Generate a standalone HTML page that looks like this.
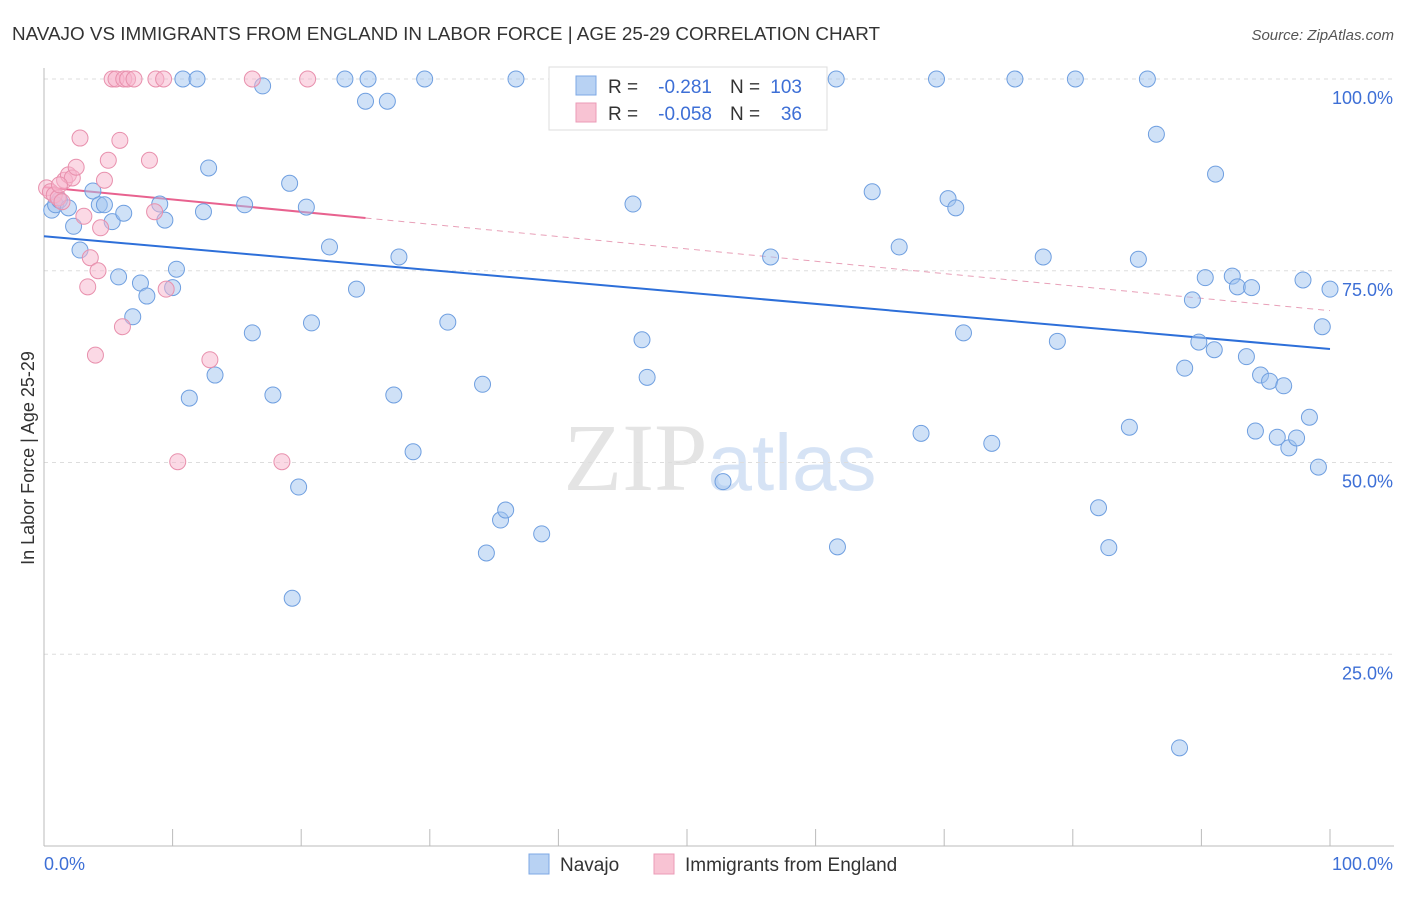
<!DOCTYPE html>
<html><head><meta charset="utf-8">
<style>
body{margin:0;background:#fff;font-family:"Liberation Sans",sans-serif;}
svg text{font-family:"Liberation Sans",sans-serif;}
</style></head>
<body>
<svg id="chart" width="1406" height="892" xmlns="http://www.w3.org/2000/svg">
<text x="12" y="40" font-size="18" fill="#333" textLength="868" lengthAdjust="spacingAndGlyphs">NAVAJO VS IMMIGRANTS FROM ENGLAND IN LABOR FORCE | AGE 25-29 CORRELATION CHART</text>
<text x="1394" y="40" font-size="15" fill="#555" text-anchor="end" font-style="italic">Source: ZipAtlas.com</text>
<text x="720" y="490" font-size="96" text-anchor="middle" fill="#e4e4e4"><tspan font-family="Liberation Serif">ZIP</tspan><tspan fill="#d6e3f5" font-size="80">atlas</tspan></text>
<g id="grid"></g>
<g id="axes"></g>
<text transform="translate(34,458) rotate(-90)" font-size="18" fill="#333" text-anchor="middle">In Labor Force | Age 25-29</text>
<g id="trends"></g>
<g id="points"></g>
<g>
<rect x="549" y="67" width="278" height="63" fill="#fff" stroke="#ddd"/>
<rect x="576" y="76" width="20" height="19" fill="#b8d2f3" stroke="#7ea8e4"/>
<text x="608" y="93" font-size="19" fill="#333">R =</text>
<text x="712" y="93" font-size="19" fill="#3d6fd6" text-anchor="end">-0.281</text>
<text x="730" y="93" font-size="19" fill="#333">N =</text>
<text x="802" y="93" font-size="19" fill="#3d6fd6" text-anchor="end">103</text>
<rect x="576" y="103" width="20" height="19" fill="#f8c3d3" stroke="#eb9bb7"/>
<text x="608" y="120" font-size="19" fill="#333">R =</text>
<text x="712" y="120" font-size="19" fill="#3d6fd6" text-anchor="end">-0.058</text>
<text x="730" y="120" font-size="19" fill="#333">N =</text>
<text x="802" y="120" font-size="19" fill="#3d6fd6" text-anchor="end">36</text>
</g>
<g>
<rect x="529" y="854" width="20" height="20" fill="#b8d2f3" stroke="#7ea8e4"/>
<text x="560" y="871" font-size="19" fill="#333">Navajo</text>
<rect x="654" y="854" width="20" height="20" fill="#f8c3d3" stroke="#eb9bb7"/>
<text x="685" y="871" font-size="19" fill="#333">Immigrants from England</text>
</g>
</svg>
<script>
const navX=[0.6,0.9,1.2,1.9,2.3,2.8,3.8,4.3,4.7,5.3,5.8,6.2,6.9,7.5,8.0,9.0,9.4,10.0,10.3,10.8,11.3,11.9,12.4,12.8,13.3,15.6,16.2,17.0,17.8,19.1,19.3,19.8,20.4,20.8,22.2,23.4,24.3,25.0,25.2,26.7,27.2,27.6,28.7,29.6,31.4,34.1,34.4,35.5,35.9,36.7,38.7,40.4,45.8,46.5,46.9,52.8,56.5,58.2,61.6,61.7,64.4,66.5,68.2,69.4,70.3,70.9,71.5,73.7,75.5,77.7,78.8,80.2,82.0,82.8,84.4,85.1,85.8,86.5,88.3,88.7,89.3,89.8,90.3,91.0,91.1,92.4,92.8,93.5,93.9,94.2,94.6,95.3,95.9,96.4,96.8,97.4,97.9,98.4,99.1,99.4,100];
const navY=[82.9,83.6,84.2,83.2,80.8,77.7,85.4,83.6,83.6,81.4,74.2,82.5,69.0,73.4,71.7,83.7,81.6,72.8,75.2,100,58.4,100,82.7,88.4,61.4,83.6,66.9,99.1,58.8,86.4,32.3,46.8,83.3,68.2,78.1,100,72.6,97.1,100,97.1,58.8,76.8,51.4,100,68.3,60.2,38.2,42.5,43.8,100,40.7,100,83.7,66.0,61.1,47.5,76.8,100,100,39.0,85.3,78.1,53.8,100,84.4,83.2,66.9,52.5,100,76.8,65.8,100,44.1,38.9,54.6,76.5,100,92.8,12.8,62.3,71.2,65.7,74.1,64.7,87.6,74.3,72.9,63.8,72.8,54.1,61.4,60.6,53.3,60.0,51.9,53.2,73.8,55.9,49.4,67.7,72.6];
const engX=[0.2,0.5,0.8,1.1,1.4,1.6,1.9,2.2,2.5,2.8,3.1,3.4,3.6,4.0,4.2,4.4,4.7,5.0,5.3,5.6,5.9,6.1,6.2,6.5,7.0,8.2,8.6,8.7,9.3,9.5,10.4,12.9,16.2,18.5,20.5,1.2];
const engY=[85.8,85.3,84.9,84.5,84.0,86.8,87.5,87.1,88.5,92.3,82.1,72.9,76.7,64.0,75.0,80.6,86.8,89.4,100,100,92.0,67.7,100,100,100,89.4,82.7,100,100,72.6,50.1,63.4,100,50.1,100,86.2];
const navTrend=[79.5,64.8];
const engTrend=[85.9,69.8];
const engSolidEnd=25;
const yTicks=[25,50,75,100];
const yTickLabels=["25.0%","50.0%","75.0%","100.0%"];
const xTicks=[0,10,20,30,40,50,60,70,80,90,100];

const NS="http://www.w3.org/2000/svg";
const X0=44,X1=1330,Y0=846,Ytop=79;
const sx=v=>X0+(X1-X0)*v/100;
const sy=v=>Y0-(Y0-Ytop)*v/100;
function mk(tag,attrs,parent){const e=document.createElementNS(NS,tag);for(const k in attrs)e.setAttribute(k,attrs[k]);parent.appendChild(e);return e;}
const grid=document.getElementById('grid'),axes=document.getElementById('axes');
yTicks.forEach((t,i)=>{
 const l=mk('line',{x1:X0,x2:1394,y1:sy(t),y2:sy(t),stroke:'#ddd','stroke-dasharray':'4,4'},grid);
 
 
 const tx=mk('text',{x:1393,y:sy(t)+25,'font-size':18,fill:'#3d6fd6','text-anchor':'end'},axes);
 tx.textContent=yTickLabels[i];
 
 
});
const ya=mk('line',{x1:X0,x2:X0,y1:68,y2:Y0,stroke:'#bbb'},axes);


const xa=mk('line',{x1:X0,x2:1394,y1:Y0,y2:Y0,stroke:'#bbb'},axes);


xTicks.forEach(t=>{
 const l=mk('line',{x1:sx(t),x2:sx(t),y1:Y0,y2:Y0-17,stroke:'#bbb'},axes);
 
 
});
const xl0=mk('text',{x:44,y:870,'font-size':18,fill:'#3d6fd6'},axes);xl0.textContent='0.0%';


const xl1=mk('text',{x:1393,y:870,'font-size':18,fill:'#3d6fd6','text-anchor':'end'},axes);xl1.textContent='100.0%';



const pts=document.getElementById('points');
navX.forEach((x,i)=>{
 const c=mk('circle',{cx:sx(x),cy:sy(navY[i]),r:8,fill:'rgba(160,196,240,0.5)',stroke:'#6f9fe0','stroke-width':1},pts);
 
 
});
engX.forEach((x,i)=>{
 const c=mk('circle',{cx:sx(x),cy:sy(engY[i]),r:8,fill:'rgba(247,180,204,0.5)',stroke:'#e890ad','stroke-width':1},pts);
 
 
});
const tr=document.getElementById('trends');
const nl=mk('line',{x1:sx(0),y1:sy(navTrend[0]),x2:sx(100),y2:sy(navTrend[1]),stroke:'#2d6fd9','stroke-width':2},tr);


const ey=x=>engTrend[0]+(engTrend[1]-engTrend[0])*x/100;
const el=mk('line',{x1:sx(0),y1:sy(ey(0)),x2:sx(engSolidEnd),y2:sy(ey(engSolidEnd)),stroke:'#e8628f','stroke-width':2},tr);


const ed=mk('line',{x1:sx(engSolidEnd),y1:sy(ey(engSolidEnd)),x2:sx(100),y2:sy(ey(100)),stroke:'#e8a0b8','stroke-width':1,'stroke-dasharray':'6,5'},tr);


</script>
</body></html>
